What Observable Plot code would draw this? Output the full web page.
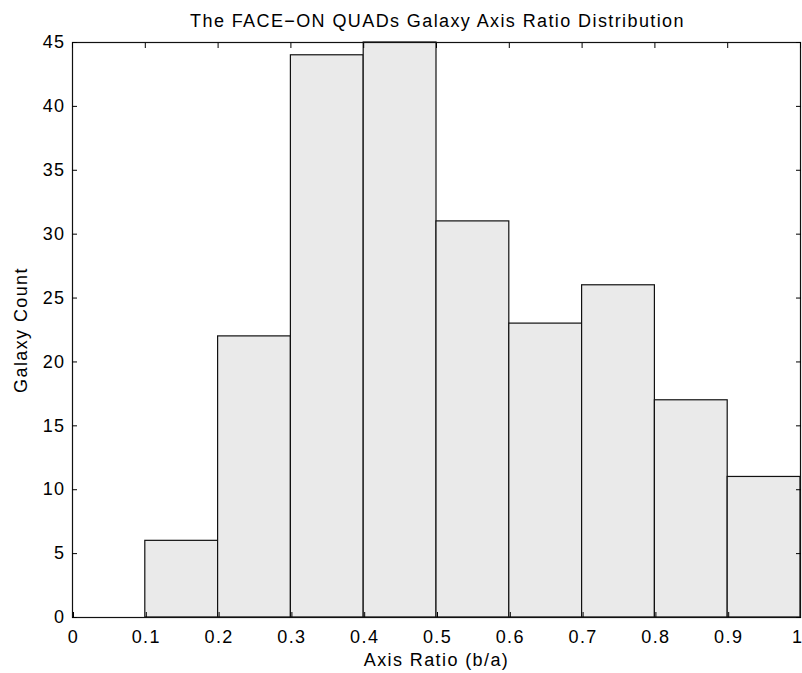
<!DOCTYPE html>
<html>
<head>
<meta charset="utf-8">
<script src="https://cdn.jsdelivr.net/npm/d3@7"></script>
<script src="https://cdn.jsdelivr.net/npm/@observablehq/plot@0.6"></script>
<style>
  html, body { margin: 0; padding: 0; background: #fff; }
  #chart svg { display: block; }
</style>
</head>
<body>
<div id="chart"></div>
<script>
const binStarts = [0.1, 0.2, 0.3, 0.4, 0.5, 0.6, 0.7, 0.8, 0.9];
const binEnds   = [0.2, 0.3, 0.4, 0.5, 0.6, 0.7, 0.8, 0.9, 1.0];
const counts    = [6, 22, 44, 45, 31, 23, 26, 17, 11];
const xTicks = [0, 0.1, 0.2, 0.3, 0.4, 0.5, 0.6, 0.7, 0.8, 0.9, 1];
const xTickLabels = ["0", "0.1", "0.2", "0.3", "0.4", "0.5", "0.6", "0.7", "0.8", "0.9", "1"];
const yTicks = [0, 5, 10, 15, 20, 25, 30, 35, 40, 45];
const title = "The FACE\u2212ON QUADs Galaxy Axis Ratio Distribution";

const bins = binStarts.map((s, i) => ({x1: s, x2: binEnds[i], y: counts[i]}));
const font = "'Liberation Sans', Arial, sans-serif";
const fs = 18;
const lab = d => xTickLabels[xTicks.indexOf(d)];

const chart = Plot.plot({
  width: 802,
  height: 673,
  marginLeft: 72,
  marginRight: 2,
  marginTop: 42,
  marginBottom: 56,
  style: {fontFamily: font, fontSize: fs + "px", letterSpacing: "1.4px", color: "#000", background: "#fff"},
  x: {domain: [0, 1]},
  y: {domain: [0, 45]},
  marks: [
    Plot.rectY(bins, {x1: "x1", x2: "x2", y: "y", fill: "#eaeaea", stroke: "#111", strokeWidth: 1.2}),
    Plot.frame({stroke: "#111", strokeWidth: 1.2}),
    Plot.axisX({anchor: "bottom", ticks: xTicks.slice(0, -1), tickFormat: lab, tickSize: -5, tickPadding: 18, dx: 1, label: "Axis Ratio (b/a)", labelAnchor: "center", labelArrow: "none", labelOffset: 48, fontSize: fs}),
    Plot.axisX({anchor: "bottom", ticks: xTicks.slice(-1), tickFormat: lab, tickSize: -5, tickPadding: 18, textAnchor: "end", dx: 3, label: null, fontSize: fs}),
    Plot.axisX({anchor: "top", ticks: xTicks, tickFormat: () => "", tickSize: -5, label: null}),
    Plot.axisY({anchor: "left", ticks: yTicks, tickSize: -5, tickPadding: 12, label: "Galaxy Count", labelAnchor: "center", labelArrow: "none", labelOffset: 58, fontSize: fs}),
    Plot.axisY({anchor: "right", ticks: yTicks, tickFormat: () => "", tickSize: -5, label: null}),
    Plot.text([title], {text: d => d, frameAnchor: "top", dy: -28, dx: 1, fontSize: fs})
  ]
});
document.getElementById("chart").appendChild(chart);
</script>
</body>
</html>
